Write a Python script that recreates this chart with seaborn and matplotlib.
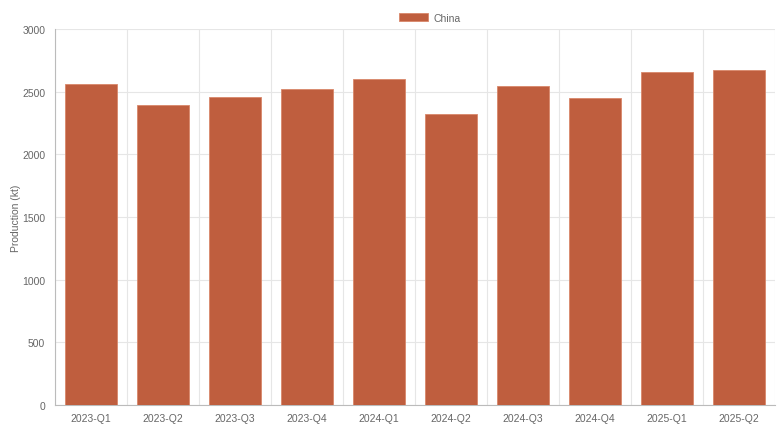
import numpy as np
import pandas as pd
import seaborn as sns
import matplotlib.pyplot as plt

# data
quarters = ["2023-Q1", "2023-Q2", "2023-Q3", "2023-Q4", "2024-Q1",
            "2024-Q2", "2024-Q3", "2024-Q4", "2025-Q1", "2025-Q2"]
production = [2560, 2390, 2460, 2520, 2605, 2320, 2545, 2450, 2655, 2670]
series_name = "China"
y_ticks = [0, 500, 1000, 1500, 2000, 2500, 3000]

df = pd.DataFrame({"quarter": quarters, "production": production})

sns.set_style("white")
plt.rcParams["font.family"] = ["Liberation Sans", "DejaVu Sans"]

fig = plt.figure(figsize=(7.81, 4.35), dpi=100)
ax = fig.add_axes([55 / 781, 29 / 435, 720 / 781, 376 / 435])

bar_color = "#BF5E3E"
sns.barplot(data=df, x="quarter", y="production", color=bar_color,
            saturation=1, width=0.72, edgecolor="#D9876A", linewidth=0.6,
            label=series_name, ax=ax, zorder=3)

# gridlines like chart.js: horizontal at ticks, vertical between categories
ax.set_xlim(-0.5, len(quarters) - 0.5)
ax.set_ylim(0, 3000)
ax.set_yticks(y_ticks)
ax.set_xticks(np.arange(-0.5, len(quarters)), minor=True)
ax.grid(axis="y", which="major", color="#e6e6e6", linewidth=0.8, zorder=0)
ax.grid(axis="x", which="minor", color="#e6e6e6", linewidth=0.8, zorder=0)
ax.set_axisbelow(True)

ax.tick_params(axis="x", which="major", length=0, pad=6, labelsize=7.5, labelcolor="#666666")
ax.tick_params(axis="x", which="minor", length=5, color="#d0d0d0", width=0.8)
ax.tick_params(axis="y", which="major", length=5, color="#d0d0d0", width=0.8,
               pad=2, labelsize=7.5, labelcolor="#666666")

for side in ["top", "right"]:
    ax.spines[side].set_visible(False)
for side in ["left", "bottom"]:
    ax.spines[side].set_color("#bbbbbb")
    ax.spines[side].set_linewidth(0.8)

ax.set_xlabel("")
ax.set_ylabel("Production (kt)", fontsize=7.5, color="#666666", labelpad=0.5)

# legend centred on the canvas, as chart.js does
leg = ax.legend(loc="center", bbox_to_anchor=(0.52, 1.0 + 11 / 376), ncol=1,
                frameon=False, fontsize=7.5, handlelength=2.8, handleheight=0.8,
                handletextpad=0.5, borderaxespad=0)
for t in leg.get_texts():
    t.set_color("#666666")

fig.savefig("out.png", dpi=100, facecolor="white")
